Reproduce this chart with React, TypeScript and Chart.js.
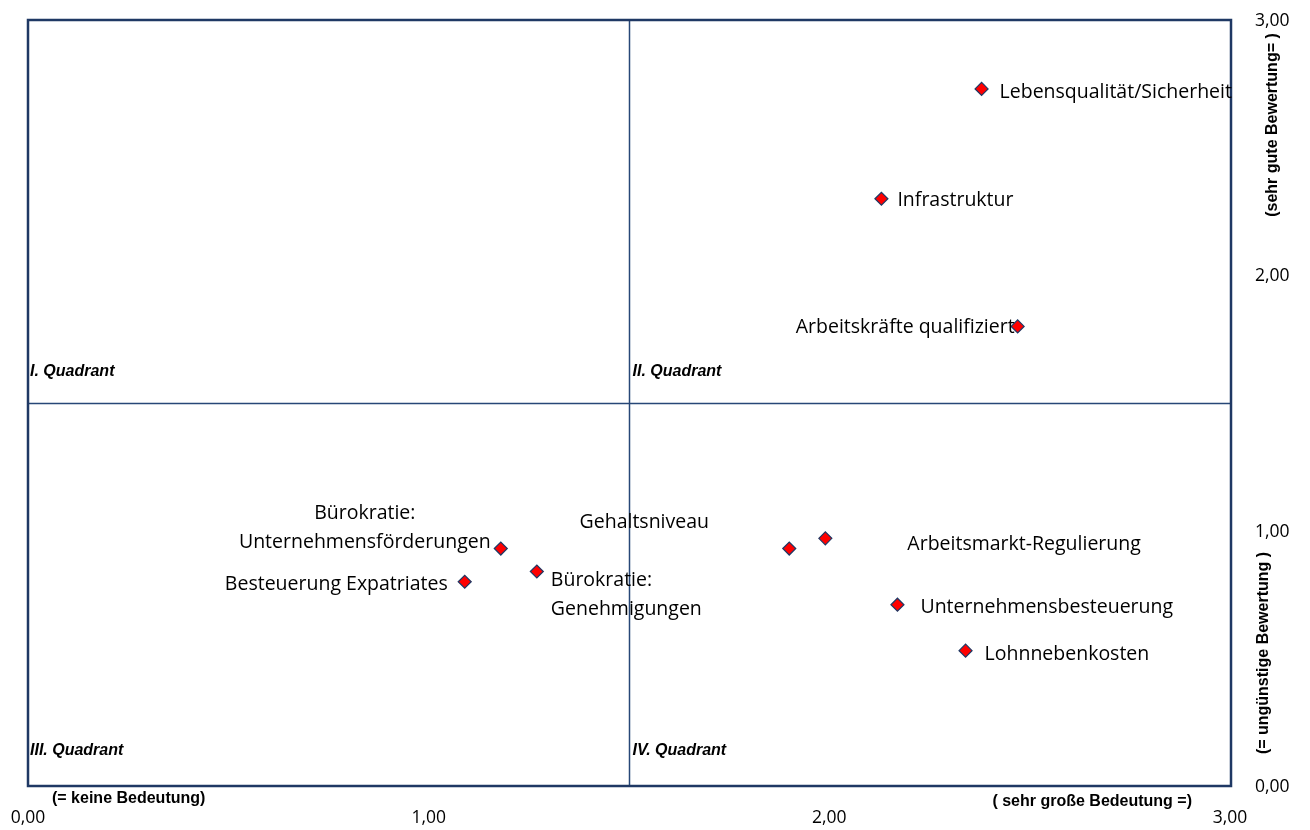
import React, { useEffect, useRef } from "react";
import { Chart, registerables } from "chart.js";

Chart.register(...registerables);

const pointNames: string[][] = [
  ["Lebensqualität/Sicherheit"],
  ["Infrastruktur"],
  ["Arbeitskräfte qualifiziert"],
  ["Bürokratie:", "Unternehmensförderungen"],
  ["Besteuerung Expatriates"],
  ["Bürokratie:", "Genehmigungen"],
  ["Gehaltsniveau"],
  ["Arbeitsmarkt-Regulierung"],
  ["Unternehmensbesteuerung"],
  ["Lohnnebenkosten"],
];
const importance: number[] = [2.38, 2.13, 2.47, 1.18, 1.09, 1.27, 1.90, 1.99, 2.17, 2.34];
const rating: number[] = [2.73, 2.30, 1.80, 0.93, 0.80, 0.84, 0.93, 0.97, 0.71, 0.53];
const axisTicks: number[] = [0, 1, 2, 3];
const quadrantNames: string[] = ["I. Quadrant", "II. Quadrant", "III. Quadrant", "IV. Quadrant"];
const axisNotes: string[] = ["(= keine Bedeutung)", "( sehr große Bedeutung =)", "(sehr gute Bewertung= )", "(= ungünstige Bewertung )"];

// label placement relative to the marker: [dx, dy, align]
const labelPlacement: [number, number, CanvasTextAlign][] = [
  [18, 2, "left"],
  [16, 1, "left"],
  [-3, 0, "right"],
  [-136, -36, "center"],
  [-17, 2, "right"],
  [14, 8, "left"],
  [-145, -27, "center"],
  [82, 5, "left"],
  [23, 2, "left"],
  [19, 3, "left"],
];

const NAVY = "#1F3864";
const LINE = "#274777";
const LABEL_FONT = "19.5px 'Open Sans', 'Noto Sans', sans-serif";
const TICK_FONT = "17.5px 'Open Sans', 'Noto Sans', sans-serif";
const fmt = (v: number) => v.toFixed(2).replace(".", ",");

const overlayPlugin = {
  id: "overlay",
  beforeDatasetsDraw(chart: any) {
    const { ctx, chartArea: a, scales } = chart;
    const xs = scales.x, ys = scales.y;
    ctx.save();
    ctx.strokeStyle = LINE;
    ctx.lineWidth = 1.5;
    const mx = xs.getPixelForValue(1.5) + 0.5;
    const my = ys.getPixelForValue(1.5) + 0.5;
    ctx.beginPath();
    ctx.moveTo(mx, a.top);
    ctx.lineTo(mx, a.bottom);
    ctx.moveTo(a.left, my);
    ctx.lineTo(a.right, my);
    ctx.stroke();
    ctx.strokeStyle = NAVY;
    ctx.lineWidth = 2.5;
    ctx.strokeRect(a.left, a.top, a.right - a.left + 1, a.bottom - a.top);

    // tick labels
    ctx.fillStyle = "#000";
    ctx.font = TICK_FONT;
    ctx.textBaseline = "middle";
    ctx.textAlign = "center";
    axisTicks.forEach((v) => {
      ctx.fillText(fmt(v), xs.getPixelForValue(v), a.bottom + 32);
    });
    ctx.textAlign = "left";
    axisTicks.forEach((v) => {
      ctx.fillText(fmt(v), a.right + 25, ys.getPixelForValue(v) + 1);
    });

    ctx.font = "italic bold 16px 'Liberation Sans', Arial, sans-serif";
    ctx.textAlign = "left";
    const qy1 = my - 32;
    const qy2 = a.bottom - 35;
    ctx.fillText(quadrantNames[0], a.left + 2, qy1);
    ctx.fillText(quadrantNames[1], mx + 3, qy1);
    ctx.fillText(quadrantNames[2], a.left + 2, qy2);
    ctx.fillText(quadrantNames[3], mx + 3, qy2);

    ctx.font = "bold 16px 'Liberation Sans', Arial, sans-serif";
    ctx.fillText(axisNotes[0], a.left + 24, a.bottom + 13);
    ctx.textAlign = "right";
    ctx.fillText(axisNotes[1], a.right - 38, a.bottom + 16);

    ctx.textAlign = "center";
    ctx.save();
    ctx.translate(a.right + 43, 125);
    ctx.rotate(-Math.PI / 2);
    ctx.fillText(axisNotes[2], 0, 0);
    ctx.restore();
    ctx.save();
    ctx.translate(a.right + 34, 653);
    ctx.rotate(-Math.PI / 2);
    ctx.fillText(axisNotes[3], 0, 0);
    ctx.restore();
    ctx.restore();
  },
  afterDatasetsDraw(chart: any) {
    const { ctx } = chart;
    const meta = chart.getDatasetMeta(0);
    ctx.save();
    ctx.fillStyle = "#000";
    ctx.font = LABEL_FONT;
    ctx.textBaseline = "middle";
    meta.data.forEach((pt: any, i: number) => {
      const [dx, dy, align] = labelPlacement[i];
      ctx.textAlign = align;
      pointNames[i].forEach((line, j) => {
        ctx.fillText(line, pt.x + dx, pt.y + dy + 1 + j * 29);
      });
    });
    ctx.restore();
  },
};

export default function App() {
  const ref = useRef<HTMLCanvasElement>(null);
  useEffect(() => {
    if (!ref.current) return;
    const chart = new Chart(ref.current, {
      type: "scatter",
      data: {
        datasets: [
          {
            data: importance.map((x, i) => ({ x, y: rating[i] })),
            pointStyle: "rectRot",
            pointRadius: 6.5,
            pointHoverRadius: 6.5,
            backgroundColor: "#FF0000",
            borderColor: NAVY,
            borderWidth: 1.2,
          },
        ],
      },
      options: {
        animation: false,
        responsive: false,
        devicePixelRatio: 1,
        layout: { padding: { left: 28, top: 20, right: 0, bottom: 0 } },
        plugins: { legend: { display: false }, tooltip: { enabled: false } },
        scales: {
          x: {
            type: "linear",
            min: 0,
            max: 3,
            afterBuildTicks: (s: any) => { s.ticks = axisTicks.map((v) => ({ value: v })); },
            afterFit: (s: any) => { s.height = 44; },
            grid: { display: false, drawTicks: false },
            border: { display: false },
            ticks: { display: false },
          },
          y: {
            type: "linear",
            position: "right",
            min: 0,
            max: 3,
            afterBuildTicks: (s: any) => { s.ticks = axisTicks.map((v) => ({ value: v })); },
            afterFit: (s: any) => { s.width = 80; },
            grid: { display: false, drawTicks: false },
            border: { display: false },
            ticks: { display: false },
          },
        },
      },
      plugins: [overlayPlugin],
    } as any);
    return () => chart.destroy();
  }, []);
  return (
    <div style={{ position: "fixed", left: 0, top: 0, width: 1310, height: 830, background: "#fff" }}>
      <canvas ref={ref} width={1310} height={830} style={{ width: 1310, height: 830 }} />
    </div>
  );
}
